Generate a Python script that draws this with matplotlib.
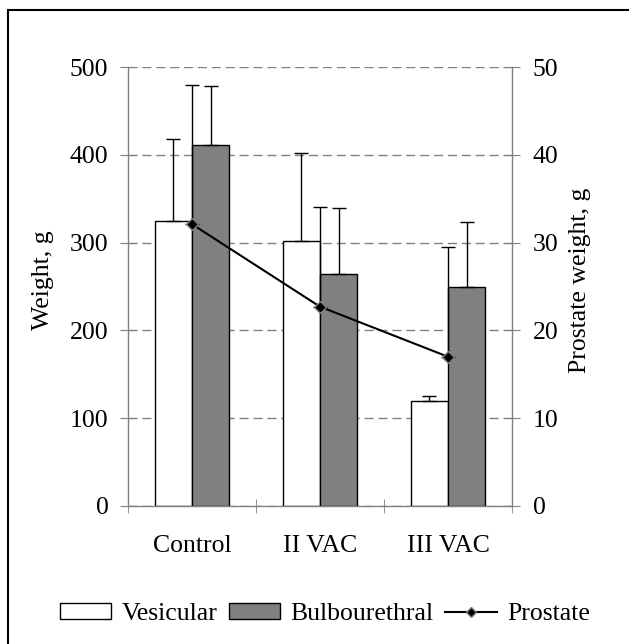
import matplotlib
matplotlib.use('Agg')
import matplotlib.pyplot as plt
from matplotlib.patches import Rectangle, Patch
from matplotlib.lines import Line2D
import numpy as np

categories = ['Control', 'II VAC', 'III VAC']
vesicular = [325, 302, 120]
vesicular_err = [93, 100, 5]
bulbourethral = [411, 264, 250]
bulbourethral_err = [67, 75, 73]
prostate = [32.1, 22.7, 17.0]
prostate_err = [15.9, 11.4, 12.5]
left_ticks = [0, 100, 200, 300, 400, 500]
right_ticks = [0, 10, 20, 30, 40, 50]
series_labels = ['Vesicular', 'Bulbourethral', 'Prostate']

plt.rcParams['font.family'] = ['Liberation Serif', 'DejaVu Serif']
fs = 18.5
grey = '#808080'

W, H = 629, 644
fig = plt.figure(figsize=(W / 100, H / 100), dpi=100)
ax1 = fig.add_axes([128 / W, 1 - 506 / H, 384 / W, 439 / H])
ax2 = ax1.twinx()

x = np.arange(len(categories))
w = 0.29
zeros = np.zeros(len(categories))

ax1.set_axisbelow(True)
ax1.yaxis.grid(True, linestyle=(0, (6.5, 3.5)), color=grey, lw=1)
ax1.bar(x - w / 2, vesicular, w, color='white', edgecolor='black', lw=1, zorder=2)
ax1.bar(x + w / 2, bulbourethral, w, color=grey, edgecolor='black', lw=1, zorder=2)
ax1.errorbar(x - w / 2, vesicular, yerr=[zeros, vesicular_err], fmt='none',
             ecolor='black', elinewidth=1, capsize=5, capthick=1, zorder=3)
ax1.errorbar(x + w / 2, bulbourethral, yerr=[zeros, bulbourethral_err], fmt='none',
             ecolor='black', elinewidth=1, capsize=5, capthick=1, zorder=3)

ax2.errorbar(x, prostate, yerr=[zeros, prostate_err], fmt='none',
             ecolor='black', elinewidth=1, capsize=5, capthick=1, zorder=3)
ax2.plot(x, prostate, color='black', lw=1.5, marker='D', markersize=6,
         markerfacecolor='black', markeredgecolor=grey, markeredgewidth=1, zorder=4)

ax1.set_xlim(-0.5, 2.5)
ax1.set_ylim(0, 500)
ax2.set_ylim(0, 50)
ax1.set_yticks(left_ticks)
ax2.set_yticks(right_ticks)
ax1.set_xticks(x)
ax1.set_xticklabels(categories)
ax1.set_xticks([-0.5, 0.5, 1.5, 2.5], minor=True)

for ax in (ax1, ax2):
    for s in ax.spines.values():
        s.set_color(grey)
        s.set_linewidth(1)
    ax.spines['top'].set_visible(False)
ax1.spines['right'].set_visible(False)
ax2.spines['left'].set_visible(False)
ax2.spines['bottom'].set_visible(False)

ax1.tick_params(axis='y', direction='inout', length=11, color=grey, labelsize=fs, pad=8.6)
ax2.tick_params(axis='y', direction='inout', length=11, color=grey, labelsize=fs, pad=9.5)
ax1.tick_params(axis='x', which='major', length=0, labelsize=fs, pad=21)
ax1.tick_params(axis='x', which='minor', direction='inout', length=10, color=grey)

ymid = 1 - 280 / H
fig.text(43 / W, ymid, 'Weight, g', rotation=90, ha='center', va='center', fontsize=fs)
fig.text(580 / W, ymid, 'Prostate weight, g', rotation=90, ha='center', va='center', fontsize=fs)

handles = [
    Patch(facecolor='white', edgecolor='black', lw=1),
    Patch(facecolor=grey, edgecolor='black', lw=1),
    Line2D([], [], color='black', lw=1.5, marker='D', markersize=5,
           markerfacecolor='black', markeredgecolor=grey),
]
fig.legend(handles, series_labels, loc='center', bbox_to_anchor=(325 / W, 1 - 614 / H),
           ncol=3, frameon=False, fontsize=fs, handlelength=2.0, handleheight=0.55,
           handletextpad=0.4, columnspacing=0.45)

top = 1 - 10 / H
fig.patches.append(Rectangle((8 / W, -0.5), 2, top + 0.5, transform=fig.transFigure,
                             fill=False, edgecolor='black', lw=1.5))

fig.savefig('out.png', dpi=100)
